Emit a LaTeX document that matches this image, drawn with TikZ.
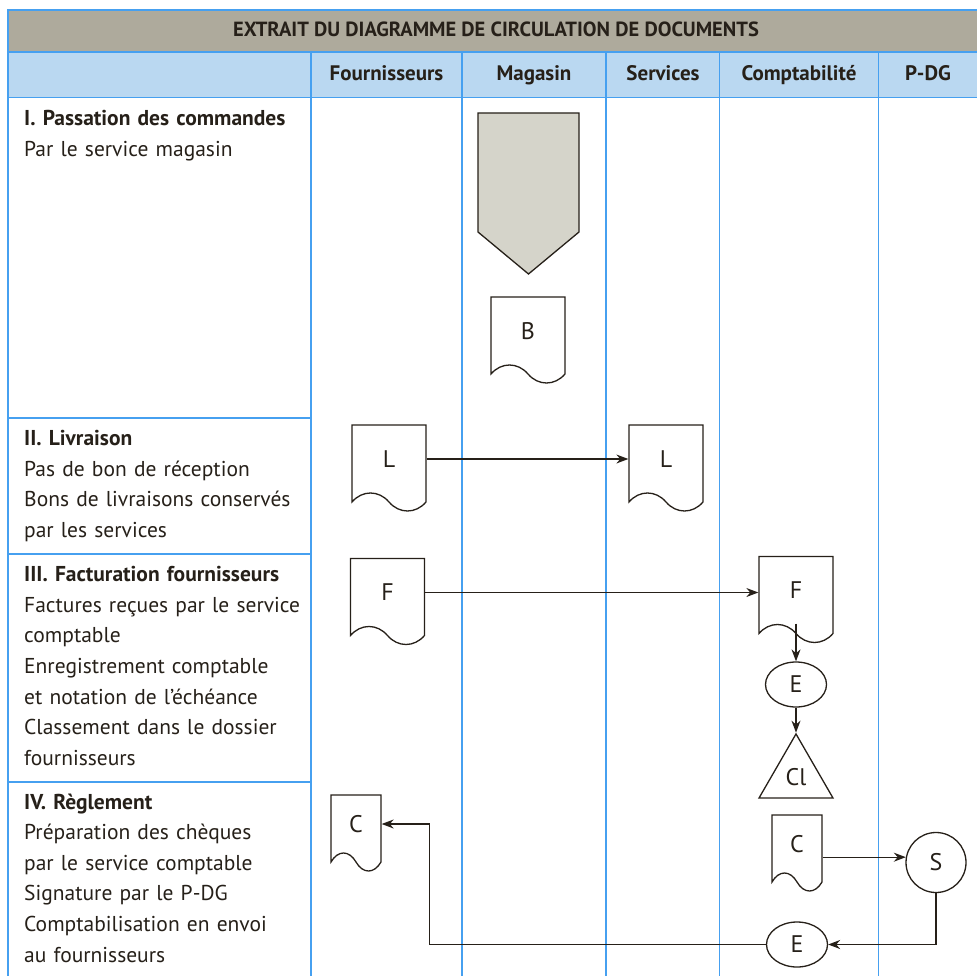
\documentclass[tikz,border=0pt]{standalone}
\usepackage{fontspec}
\setmainfont{PT Sans}
\usepackage{xcolor}
\usepackage{tikz}
\usetikzlibrary{shapes.geometric, shapes.symbols, arrows.meta, positioning}
\definecolor{grille}{RGB}{70,160,240}
\definecolor{bandeau}{RGB}{174,170,156}
\definecolor{entete}{RGB}{186,216,241}
\definecolor{renvoi}{RGB}{213,212,202}
\definecolor{encre}{RGB}{38,32,25}
\tikzset{
    docu/.style={tape, tape bend top=none, tape bend bottom=out and in, tape bend height=18pt, draw=encre, line width=1.3pt, fill=white, minimum width=74pt, minimum height=86pt, inner sep=0pt, text=encre, font=\fontsize{24}{28}\selectfont},
    petitdocu/.style={docu, minimum width=50pt, minimum height=76pt},
    ovale/.style={ellipse, draw=encre, line width=1.3pt, fill=white, minimum width=61pt, minimum height=45pt, inner sep=0pt, text=encre, font=\fontsize{24}{28}\selectfont},
    cercle/.style={circle, draw=encre, line width=1.3pt, fill=white, minimum size=60pt, inner sep=0pt, text=encre, font=\fontsize{24}{28}\selectfont},
    classement/.style={regular polygon, regular polygon sides=3, draw=encre, line width=1.3pt, minimum size=85.5pt, inner sep=0pt, text=encre, font=\fontsize{24}{28}\selectfont},
    arrow/.style={-{Stealth[length=12pt,width=9pt]}, line width=1.3pt, draw=encre},
    titre/.style={anchor=base, inner sep=0pt, text=encre, font=\bfseries\fontsize{21}{24}\selectfont},
    etape/.style={anchor=base west, text width=285pt, align=left, inner sep=0pt, text=encre, font=\fontsize{21.5}{30.6}\selectfont},
    trait/.style={draw=grille, line width=1.6pt}
}
\begin{document}
\begin{tikzpicture}[x=1pt, y=-1pt, node distance=25pt]
    \useasboundingbox (0,0) rectangle (977,976);
    \fill[bandeau] (8,10) rectangle (977,52);
    \fill[entete] (8,52) rectangle (977,97.5);
    \draw[trait] (977,10) -- (8,10) -- (8,976);
    \draw[trait] (8,52) -- (977,52);
    \draw[trait] (8,97.5) -- (977,97.5);
    \foreach \x in {311,462,606,719.5,878.5}
        \draw[trait] (\x,52) -- (\x,976);
    \foreach \y in {418,554,782}
        \draw[trait] (8,\y) -- (311,\y);

    \node (titre) [titre, font=\bfseries\fontsize{20.5}{24}\selectfont] at (496,37) {EXTRAIT DU DIAGRAMME DE CIRCULATION DE DOCUMENTS};
    \node (fourn) [titre] at (386.5,81) {Fournisseurs};
    \node (magasin) [titre] at (534,81) {Magasin};
    \node (services) [titre] at (663,81) {Services};
    \node (compta) [titre] at (799,81) {Comptabilité};
    \node (pdg) [titre] at (928,81) {P-DG};

    \node (etape1) [etape] at (24,125.7) {\textbf{I. Passation des commandes}\\Par le service magasin};
    \node (etape2) [etape] at (24,445.7) {\textbf{II. Livraison}\\Pas de bon de réception\\Bons de livraisons conservés\\par les services};
    \node (etape3) [etape] at (24,581.7) {\textbf{III. Facturation fournisseurs}\\Factures reçues par le service\\comptable\\Enregistrement comptable\\et notation de l’échéance\\Classement dans le dossier\\fournisseurs};
    \node (etape4) [etape] at (24,809) {\textbf{IV. Règlement}\\Préparation des chèques\\par le service comptable\\Signature par le P-DG\\Comptabilisation en envoi\\au fournisseurs};

    \draw[draw=encre, line width=1.3pt, fill=renvoi] (478,113) -- (579,113) -- (579,232) -- (528.5,274) -- (478,232) -- cycle;
    \node (bon) [docu] at (528,331) {B};
    \node (ll) [docu] at (389,459) {L};
    \node (lr) [docu] at (666,459) {L};
    \node (fl) [docu] at (387.5,592.5) {F};
    \node (fr) [docu] at (796,590.5) {F};
    \node (eh) [ovale] at (796,684.5) {E};
    \node (cl) [classement, below=of eh] {Cl};
    \node (cc) [petitdocu] at (356,824) {C};
    \node (cr) [petitdocu] at (797,844) {C};
    \node (s) [cercle] at (936,862.5) {S};
    \node (eb) [ovale] at (797,944.5) {E};

    \draw[arrow] (ll.east) -- (lr.west);
    \draw[arrow] (fl.east) -- (fl.east -| fr.west);
    \draw[arrow] ([yshift=-33pt]fr.center) -- (eh.north);
    \draw[arrow] (eh.south) -- (cl.north);
    \draw[arrow] (s.170 -| cr.east) -- (s.170);
    \draw[arrow] (s.south) |- (eb.east);
    \draw[arrow] (eb.west) -| ([xshift=48pt]cc.east) -- (cc.east);
\end{tikzpicture}
\end{document}
